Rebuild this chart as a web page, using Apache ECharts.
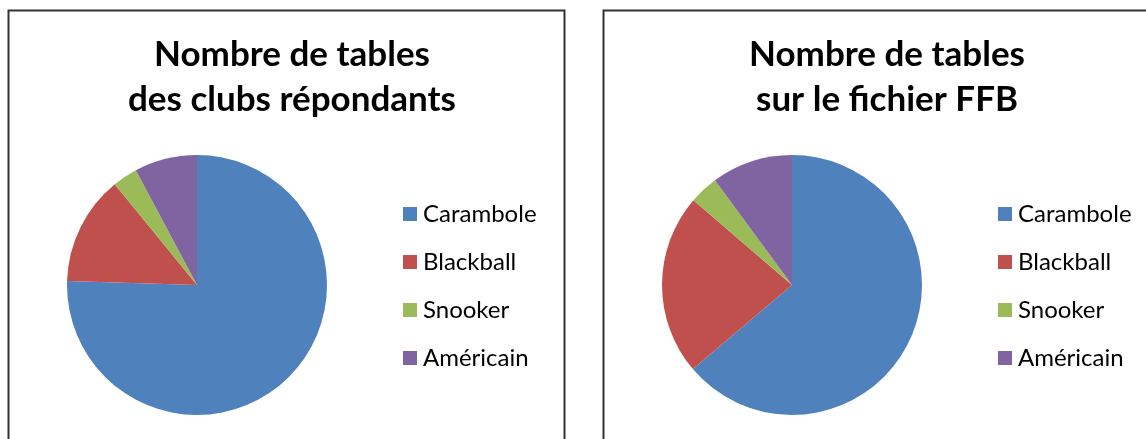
<!DOCTYPE html>
<html>
<head>
<meta charset="utf-8">
<script src="https://cdn.jsdelivr.net/npm/echarts@6/dist/echarts.min.js"></script>
<style>
html,body{margin:0;padding:0;background:#fff;}
#chart{width:1146px;height:439px;}
</style>
</head>
<body>
<div id="chart"></div>
<script>
// Data
const categories = ['Carambole', 'Blackball', 'Snooker', 'Américain'];
const clubsValues = [75.5, 13.6, 3.1, 7.8];   // estimated shares (%) - clubs répondants
const ffbValues = [63.8, 22.5, 3.6, 10.1];    // estimated shares (%) - fichier FFB
const titleLeft = 'Nombre de tables\ndes clubs répondants';
const titleRight = 'Nombre de tables\nsur le fichier FFB';
const colors = ['#4F81BD', '#C0504D', '#9BBB59', '#8064A2'];

const FONT = 'Lato, "Open Sans", sans-serif';
const chart = echarts.init(document.getElementById('chart'), null, {renderer: 'canvas'});

function toData(vals) {
  return categories.map((c, i) => ({name: c, value: vals[i]}));
}

const titleStyle = {fontFamily: FONT, fontWeight: 'bold', fontSize: 35, color: '#000', lineHeight: 45};
const legendCommon = {
  orient: 'vertical',
  top: 197,
  itemWidth: 14,
  itemHeight: 14,
  itemGap: 24,
  icon: 'rect',
  selectedMode: false,
  textStyle: {fontFamily: FONT, fontSize: 24, color: '#000', lineHeight: 24, padding: [0, 0, 0, 1]},
  data: categories
};

chart.setOption({
  animation: false,
  color: colors,
  title: [
    {text: titleLeft, left: 287, top: 27, textAlign: 'center', textStyle: titleStyle},
    {text: titleRight, left: 882, top: 27, textAlign: 'center', textStyle: titleStyle}
  ],
  legend: [
    Object.assign({left: 398, seriesIndex: 0}, legendCommon),
    Object.assign({left: 993}, legendCommon)
  ],
  graphic: [
    {type: 'rect', shape: {x: 8.5, y: 10.5, width: 556, height: 500}, style: {fill: 'none', stroke: '#333', lineWidth: 2}, silent: true},
    {type: 'rect', shape: {x: 603.5, y: 10.5, width: 556, height: 500}, style: {fill: 'none', stroke: '#333', lineWidth: 2}, silent: true}
  ],
  series: [
    {
      type: 'pie', center: [197, 285], radius: 130, startAngle: 90, clockwise: true,
      label: {show: false}, labelLine: {show: false}, emphasis: {disabled: true},
      itemStyle: {borderWidth: 0},
      data: toData(clubsValues)
    },
    {
      type: 'pie', center: [792, 285], radius: 130, startAngle: 90, clockwise: true,
      label: {show: false}, labelLine: {show: false}, emphasis: {disabled: true},
      itemStyle: {borderWidth: 0},
      data: toData(ffbValues)
    }
  ]
});
</script>
</body>
</html>
